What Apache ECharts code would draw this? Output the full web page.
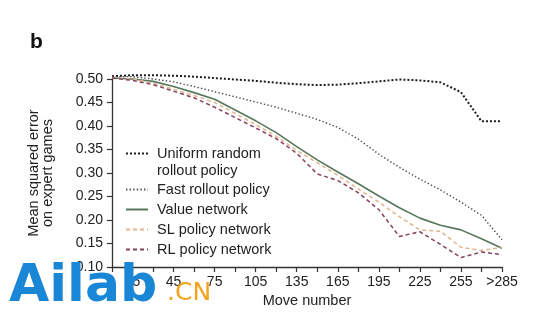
<!DOCTYPE html>
<html>
<head>
<meta charset="utf-8">
<script src="https://cdn.jsdelivr.net/npm/echarts@6/dist/echarts.min.js"></script>
<style>html,body{margin:0;padding:0;background:#fff}#c{width:550px;height:322px}</style>
</head>
<body>
<div id="c"></div>
<script>
var moves = [0,15,30,45,60,75,90,105,120,135,150,165,180,195,210,225,240,255,270,285];
var xTickLabels = {15:'15',45:'45',75:'75',105:'105',135:'135',165:'165',195:'195',225:'225',255:'255',285:'>285'};
var seriesNames = ['Uniform random\nrollout policy','Fast rollout policy','Value network','SL policy network','RL policy network'];
var uniformRandom = [0.506,0.508,0.508,0.507,0.505,0.502,0.499,0.496,0.492,0.489,0.487,0.488,0.491,0.495,0.499,0.497,0.493,0.472,0.410,0.410];
var fastRollout   = [0.505,0.505,0.500,0.494,0.484,0.473,0.462,0.451,0.440,0.427,0.414,0.397,0.372,0.340,0.312,0.287,0.264,0.238,0.210,0.158];
var valueNet      = [0.502,0.500,0.495,0.484,0.471,0.457,0.434,0.411,0.386,0.356,0.328,0.302,0.277,0.251,0.226,0.204,0.189,0.179,0.160,0.140];
var slPolicy      = [0.502,0.500,0.491,0.478,0.465,0.450,0.427,0.403,0.378,0.348,0.322,0.295,0.266,0.238,0.207,0.179,0.176,0.142,0.135,0.142];
var rlPolicy      = [0.502,0.497,0.488,0.474,0.460,0.440,0.418,0.396,0.373,0.342,0.298,0.284,0.258,0.222,0.165,0.175,0.148,0.120,0.132,0.126];

function pairs(arr){ return moves.map(function(m,i){ return [m, arr[i]]; }); }

var chart = echarts.init(document.getElementById('c'), null, {renderer:'canvas'});
var FONT = 'Liberation Sans';
function mk(name, data, color, width, type){
  return {name:name, type:'line', data:pairs(data), symbol:'none', clip:false,
    lineStyle:{color:color, width:width, type:type}, itemStyle:{color:color}, animation:false};
}
chart.setOption({
  animation:false,
  textStyle:{fontFamily:FONT},
  title:{text:'b', left:25, top:27, textStyle:{fontFamily:FONT, fontSize:21, fontWeight:'bold', color:'#111'}},
  grid:{left:112, right:48, top:79, bottom:55},
  xAxis:{type:'value', min:0, max:285, interval:15,
    name:'Move number', nameLocation:'middle', nameGap:26,
    nameTextStyle:{fontSize:14.5, color:'#222', fontFamily:FONT},
    axisLine:{lineStyle:{color:'#333', width:1.3}},
    axisTick:{length:5, lineStyle:{color:'#333', width:1.2}},
    axisLabel:{margin:8, fontSize:14, color:'#222', fontFamily:FONT,
      formatter:function(v){ return xTickLabels[v] || ''; }},
    splitLine:{show:false}},
  yAxis:{type:'value', min:0.1, max:0.5, interval:0.05,
    name:'Mean squared error\non expert games', nameLocation:'middle', nameGap:57, nameRotate:90,
    nameTextStyle:{fontSize:14.5, lineHeight:14, color:'#222', fontFamily:FONT},
    axisLine:{show:true, lineStyle:{color:'#333', width:1.3}},
    axisTick:{show:true, length:5, lineStyle:{color:'#333', width:1.2}},
    axisLabel:{margin:9, fontSize:14, color:'#222', fontFamily:FONT,
      formatter:function(v){ return v.toFixed(2); }},
    splitLine:{show:false}},
  legend:{orient:'vertical', left:125, top:128, padding:0, itemGap:1, itemWidth:22, itemHeight:4,
    itemStyle:{opacity:0},
    formatter:function(name){ return name === seriesNames[0] ? '\n' + name : name; },
    textStyle:{fontSize:14.5, lineHeight:19, color:'#222', fontFamily:FONT, padding:[0,0,0,4]},
    data:[
      {name:seriesNames[0], textStyle:{lineHeight:17}},
      {name:seriesNames[1]},{name:seriesNames[2]},{name:seriesNames[3]},{name:seriesNames[4]}
    ]},
  series:[
    mk(seriesNames[0], uniformRandom, '#1c1c1c', 2, [2,2]),
    mk(seriesNames[1], fastRollout, '#4a4a4a', 1.4, [1.4,2.2]),
    mk(seriesNames[2], valueNet, '#56775c', 1.6, 'solid'),
    mk(seriesNames[3], slPolicy, '#e3b58c', 1.5, [4,3]),
    mk(seriesNames[4], rlPolicy, '#86405f', 1.5, [4,3])
  ],
  graphic:[
    {type:'text', z:100, left:9, top:261, style:{text:'Ailab', font:'bold 52px "DejaVu Sans"', fill:'#1a86d6'}},
    {type:'text', z:100, left:167, top:281, style:{text:'.CN', font:'25px "DejaVu Sans"', fill:'#f5a21b'}}
  ]
});
</script>
</body>
</html>
